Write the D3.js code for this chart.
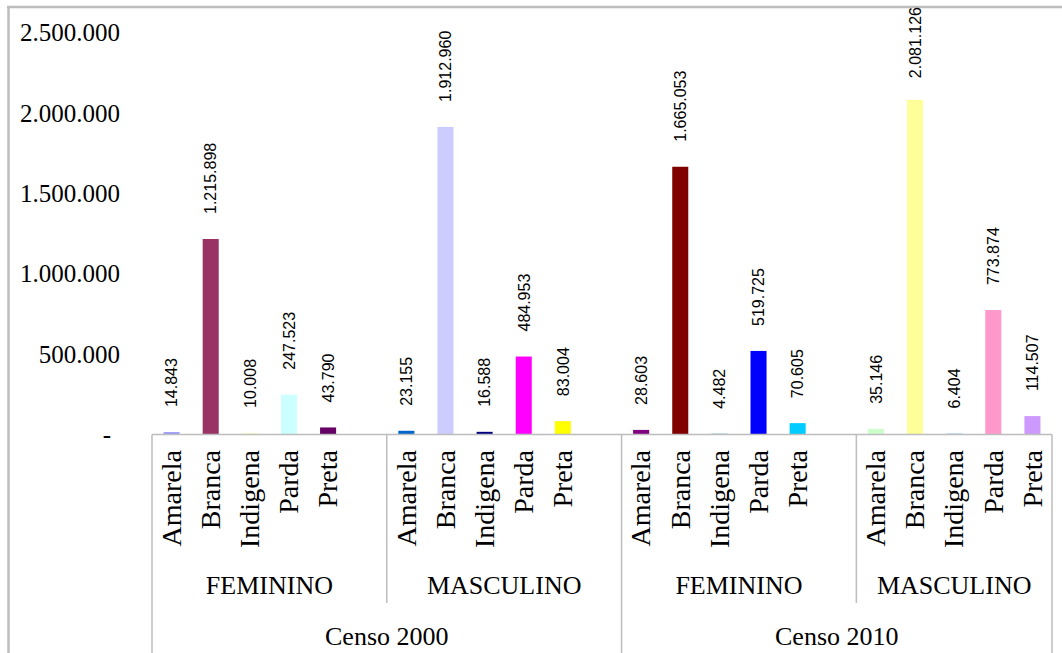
<!DOCTYPE html>
<html>
<head>
<meta charset="utf-8">
<script src="https://cdn.jsdelivr.net/npm/d3@7"></script>
<style>
  html, body { margin: 0; padding: 0; background: #fff; }
  svg { display: block; }
</style>
</head>
<body>
<svg id="chart" width="1062" height="653"></svg>
<script>
// Population by race/colour, split by sex, for the 2000 and 2010 censuses
const racas = ["Amarela", "Branca", "Indigena", "Parda", "Preta"];
const sexos = ["FEMININO", "MASCULINO"];
const censos = ["Censo 2000", "Censo 2010"];

const feminino2000 = [14843, 1215898, 10008, 247523, 43790];
const masculino2000 = [23155, 1912960, 16588, 484953, 83004];
const feminino2010 = [28603, 1665053, 4482, 519725, 70605];
const masculino2010 = [35146, 2081126, 6404, 773874, 114507];

const coresF2000 = ["#9999ff", "#993366", "#ffffcc", "#ccffff", "#660066"];
const coresM2000 = ["#0066cc", "#ccccff", "#000080", "#ff00ff", "#ffff00"];
const coresF2010 = ["#800080", "#800000", "#008080", "#0000ff", "#00ccff"];
const coresM2010 = ["#ccffcc", "#ffff99", "#99ccff", "#ff99cc", "#cc99ff"];

const yTicks = [0, 500000, 1000000, 1500000, 2000000, 2500000];

// Groups in drawing order (census -> sex)
const grupos = [
  { censo: censos[0], sexo: sexos[0], valores: feminino2000, cores: coresF2000 },
  { censo: censos[0], sexo: sexos[1], valores: masculino2000, cores: coresM2000 },
  { censo: censos[1], sexo: sexos[0], valores: feminino2010, cores: coresF2010 },
  { censo: censos[1], sexo: sexos[1], valores: masculino2010, cores: coresM2010 }
];

// Category slots: five races per group, with an empty slot between groups
const slots = [];
grupos.forEach((g, gi) => {
  racas.forEach((r, ri) => {
    slots.push({ key: gi + "-" + ri, grupo: gi, raca: r, valor: g.valores[ri], cor: g.cores[ri] });
  });
  if (gi < grupos.length - 1) slots.push({ key: gi + "-vazio", grupo: gi, raca: null });
});
const barras = slots.filter(s => s.raca !== null);

const ptBR = d3.formatLocale({ decimal: ",", thousands: ".", grouping: [3], currency: ["R$", ""] });
const fmt = ptBR.format(",d");

const svg = d3.select("#chart");
const left = 152, right = 1052, baseY = 434.5;

const x = d3.scaleBand().domain(slots.map(s => s.key)).range([left, right]).padding(0);
const y = d3.scaleLinear().domain([0, 2500000]).range([baseY, 32.5]);
const barW = x.bandwidth() * 0.41;
const cx = k => x(k) + x.bandwidth() / 2;

const cinza = "#bdbdbd";
const serif = "'Liberation Serif', 'Times New Roman', serif";
const sans = "'Liberation Sans', Arial, sans-serif";

// Outer frame (top and left edges)
svg.append("line").attr("x1", 7).attr("x2", 1062).attr("y1", 7).attr("y2", 7)
  .attr("stroke", cinza).attr("stroke-width", 2.5);
svg.append("line").attr("x1", 8.5).attr("x2", 8.5).attr("y1", 6).attr("y2", 653)
  .attr("stroke", cinza).attr("stroke-width", 2.5);

// Value axis
const yAxis = svg.append("g")
  .attr("transform", "translate(120,0)")
  .call(d3.axisLeft(y).tickValues(yTicks).tickSize(0).tickPadding(0)
    .tickFormat(v => v === 0 ? "-" : fmt(v)));
yAxis.select(".domain").remove();
yAxis.attr("font-family", null).attr("font-size", null);
yAxis.selectAll("text")
  .style("font-family", serif).style("font-size", "25px").attr("fill", "#000")
  .attr("dy", "0.33em")
  .attr("dx", v => v === 0 ? -9 : 0);

// Bars
svg.append("g").selectAll("rect").data(barras).join("rect")
  .attr("x", d => cx(d.key) - barW / 2)
  .attr("width", barW)
  .attr("y", d => y(d.valor))
  .attr("height", d => y(0) - y(d.valor))
  .attr("fill", d => d.cor);

// Value labels above the bars, kept inside the plot area
const rotulos = svg.append("g").selectAll("text").data(barras).join("text")
  .style("font-family", sans).style("font-size", "16px").attr("fill", "#000")
  .attr("text-anchor", "start").attr("dy", "0.36em")
  .text(d => fmt(d.valor));
rotulos.attr("transform", function (d) {
  const len = this.getComputedTextLength();
  const start = Math.max(y(d.valor) - 25, 7 + len);
  return "translate(" + cx(d.key) + "," + start + ") rotate(-90)";
});

// Category axis frame
const eixo = svg.append("g").attr("stroke", cinza).attr("stroke-width", 1.5);
eixo.append("line").attr("x1", left).attr("x2", right).attr("y1", baseY).attr("y2", baseY);
grupos.forEach((g, gi) => {
  const x0 = x(gi + "-0");
  const fullHeight = gi % 2 === 0;
  eixo.append("line").attr("x1", x0).attr("x2", x0)
    .attr("y1", baseY).attr("y2", fullHeight ? 653 : 603);
});
eixo.append("line").attr("x1", right).attr("x2", right).attr("y1", baseY).attr("y2", 653);

// Race labels
svg.append("g").selectAll("text").data(barras).join("text")
  .style("font-family", serif).style("font-size", "28px").attr("fill", "#000")
  .attr("text-anchor", "end").attr("dy", "0.33em")
  .attr("transform", d => "translate(" + cx(d.key) + ",450) rotate(-90)")
  .text(d => d.raca);

// Sex labels, centred on each group
const limites = grupos.map((g, gi) => [x(gi + "-0"), gi < grupos.length - 1 ? x((gi + 1) + "-0") : right]);
svg.append("g").selectAll("text").data(grupos).join("text")
  .style("font-family", serif).style("font-size", "26px").attr("fill", "#000")
  .attr("text-anchor", "middle")
  .attr("x", (g, gi) => (limites[gi][0] + limites[gi][1]) / 2)
  .attr("y", 594)
  .text(g => g.sexo);

// Census labels, centred on each pair of groups
svg.append("g").selectAll("text").data(censos).join("text")
  .style("font-family", serif).style("font-size", "26px").attr("fill", "#000")
  .attr("text-anchor", "middle")
  .attr("x", (c, ci) => (limites[ci * 2][0] + limites[ci * 2 + 1][1]) / 2)
  .attr("y", 645)
  .text(c => c);
</script>
</body>
</html>
